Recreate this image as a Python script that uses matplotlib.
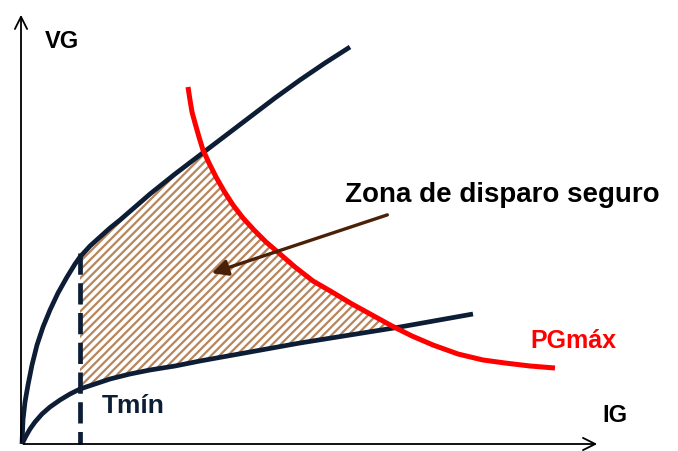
import numpy as np
import matplotlib
matplotlib.use("Agg")
import matplotlib.pyplot as plt

# -------------------------
# Curve points (pixel space, y downwards)
# -------------------------
upper_x = [22, 23, 25, 28, 32, 37, 43, 50, 58, 67, 75, 80, 90, 100, 110, 120,
           135, 150, 175, 200, 225, 250, 275, 300, 325, 350]
upper_y = [444, 420, 402, 385, 365, 345, 327, 310, 293, 277, 264, 257, 246, 237, 228, 220,
           207, 194, 174, 155, 136, 117, 98, 80, 63, 47]

lower_x = [22, 26, 30, 35, 42, 50, 60, 70, 80, 95, 110, 130, 150, 175, 200, 250, 300, 350, 400, 473]
lower_y = [444, 436, 429, 422, 414, 407, 400, 394, 389, 384, 379, 374, 370, 366, 361, 352, 343, 335, 327, 314]

red_x = [188, 190, 192, 195, 199, 203, 209, 216, 224, 233, 243, 254, 266, 280, 295, 313,
         332, 352, 372, 392, 412, 433, 458, 483, 505, 530, 555]
red_y = [87, 100, 112, 123, 137, 150, 163, 177, 191, 205, 218, 230, 242, 254, 267, 281,
         292, 304, 315, 326, 336, 345, 354, 360, 363, 366, 368]

t_min = 80          # dashed vertical line position
origin = (21, 444)
y_axis_top = 12
x_axis_end = 600

labels = {
    "VG": (45, 48),
    "IG": (602, 422),
    "Tmín": (102, 413),
    "PGmáx": (530, 348),
    "Zona de disparo seguro": (345, 202),
}
arrow_tail = (390, 214)
arrow_head = (209, 274)

navy = "#0c1d35"
red = "#ff0000"
brown = "#b8865c"

plt.rcParams["font.family"] = "Liberation Sans"
plt.rcParams["hatch.linewidth"] = 1.6

fig = plt.figure(figsize=(6.78, 4.51), dpi=100)
ax = fig.add_axes([0, 0, 1, 1])
ax.set_xlim(0, 678)
ax.set_ylim(451, 0)
ax.axis("off")

# -------------------------
# Safe zone (hatched)
# -------------------------
xs = np.linspace(t_min, 420, 800)
up = np.interp(xs, upper_x, upper_y)
lo = np.interp(xs, lower_x, lower_y)
rd = np.interp(xs, red_x, red_y)
top = np.maximum(up, rd)
ax.fill_between(xs, top, lo, where=top < lo, facecolor="none",
                edgecolor=brown, hatch="////", linewidth=0, interpolate=True)

# -------------------------
# Axes arrows
# -------------------------
ax.annotate("", xy=(origin[0], y_axis_top), xytext=origin,
            arrowprops=dict(arrowstyle="->", color="black", lw=1.3, mutation_scale=22))
ax.annotate("", xy=(x_axis_end, origin[1]), xytext=origin,
            arrowprops=dict(arrowstyle="->", color="black", lw=1.3, mutation_scale=22))

# -------------------------
# Curves
# -------------------------
ax.plot(upper_x, upper_y, color=navy, lw=3.4, solid_capstyle="butt", solid_joinstyle="round")
ax.plot(lower_x, lower_y, color=navy, lw=3.4, solid_capstyle="butt", solid_joinstyle="round")
ax.plot(red_x, red_y, color=red, lw=3.6, solid_capstyle="butt", solid_joinstyle="round")
ax.plot([t_min, t_min], [np.interp(t_min, upper_x, upper_y) - 4, origin[1]],
        color=navy, lw=3.4, linestyle=(0, (4.5, 1.8)))

# -------------------------
# Arrow and labels
# -------------------------
ax.annotate("", xy=arrow_head, xytext=arrow_tail,
            arrowprops=dict(arrowstyle="-|>", color="#4a2106", lw=2.4, mutation_scale=24))

for txt, (x, y) in labels.items():
    color = "black"
    size = 17
    if txt == "Tmín":
        color, size = navy, 19
    elif txt == "PGmáx":
        color, size = red, 18
    elif txt.startswith("Zona"):
        size = 20
    ax.text(x, y, txt, color=color, fontsize=size, fontweight="bold",
            ha="left", va="baseline")

fig.savefig("out.png", dpi=100)
